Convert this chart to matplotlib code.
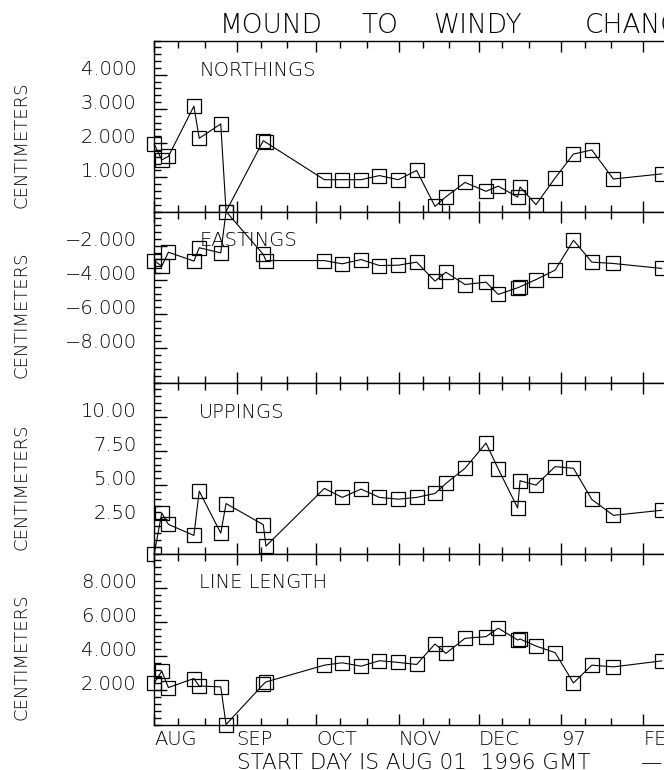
import numpy as np
import matplotlib.pyplot as plt
from matplotlib.ticker import FixedLocator, MultipleLocator
import matplotlib.transforms as mtransforms

# days since AUG 01 1996
day = [0, 2.8, 5.3, 14.9, 16.9, 25.0, 27.0, 41.0, 42.0, 64.0, 70.7, 77.8, 84.7, 91.8,
       98.7, 105.6, 109.7, 116.9, 124.8, 129.4, 136.7, 137.6, 143.6, 150.8, 157.7,
       164.6, 172.7, 190.9]

northings = [1.97, 1.51, 1.61, 3.08, 2.14, 2.56, 0.0, 2.07, 2.02, 0.93, 0.93, 0.93, 1.05,
             0.93, 1.20, 0.15, 0.43, 0.85, 0.59, 0.74, 0.42, 0.72, 0.20, 0.98, 1.68, 1.80,
             0.95, 1.10]
eastings = [-2.87, -3.20, -2.38, -2.90, -2.12, -2.42, 0.0, -2.51, -2.87, -2.87, -3.06, -2.81,
            -3.16, -3.14, -2.96, -4.07, -3.55, -4.27, -4.13, -4.85, -4.46, -4.40, -3.98,
            -3.43, -1.68, -2.96, -3.04, -3.33]
uppings = [0.0, 2.96, 2.13, 1.32, 4.56, 1.49, 3.65, 2.11, 0.54, 4.76, 4.10, 4.71, 4.10, 3.97,
           4.10, 4.39, 5.12, 6.23, 8.07, 6.18, 3.33, 5.32, 5.00, 6.35, 6.23, 3.95, 2.79, 3.16]
line_length = [2.43, 3.12, 2.16, 2.69, 2.25, 2.20, 0.0, 2.35, 2.49, 3.47, 3.61, 3.41, 3.73,
               3.63, 3.51, 4.71, 4.16, 5.04, 5.14, 5.63, 4.94, 5.00, 4.59, 4.20, 2.43, 3.47,
               3.37, 3.72]

month_days = [0, 31, 61, 92, 122, 153, 184, 215]
month_labels = ['AUG', 'SEP', 'OCT', 'NOV', 'DEC', '97', 'FEB', 'MAR']
minor_days = [9, 19, 40, 50, 70, 80, 101, 111, 131, 141, 162, 172, 193, 203, 224, 234]

panel_names = ['NORTHINGS', 'EASTINGS', 'UPPINGS', 'LINE LENGTH']
panel_data = [northings, eastings, uppings, line_length]
panel_ylims = [(0, 5), (-10, 0), (0, 12.5), (0, 10)]
panel_ticks = [[1, 2, 3, 4], [-8, -6, -4, -2], [2.5, 5, 7.5, 10], [2, 4, 6, 8]]
panel_ticklabels = [['1.000', '2.000', '3.000', '4.000'],
                    ['\u22128.000', '\u22126.000', '\u22124.000', '\u22122.000'],
                    ['2.50', '5.00', '7.50', '10.00'],
                    ['2.000', '4.000', '6.000', '8.000']]
panel_minor = [0.2, 0.4, 0.5, 0.4]

W, H = 664, 770
plt.rcParams['font.family'] = 'DejaVu Sans'
plt.rcParams['font.weight'] = 200
fig = plt.figure(figsize=(W / 100, H / 100), dpi=100)

x0 = 154.3
px_per_day = 2.658
xmax = 240
ax_w = xmax * px_per_day
panel_h = 171
top0 = 40.5
fs = 14

for i in range(4):
    top = top0 + i * panel_h
    ax = fig.add_axes([x0 / W, (H - top - panel_h) / H, ax_w / W, panel_h / H])
    ax.plot(day, panel_data[i], color='black', lw=0.8, marker='s', markersize=9.4,
            markerfacecolor='none', markeredgecolor='black', markeredgewidth=0.9,
            clip_on=False, zorder=3)
    ax.set_xlim(0, xmax)
    ax.set_ylim(*panel_ylims[i])
    for s in ax.spines.values():
        s.set_linewidth(1.0)

    ax.xaxis.set_major_locator(FixedLocator(month_days))
    ax.xaxis.set_minor_locator(FixedLocator(minor_days))
    ax.yaxis.set_major_locator(FixedLocator(panel_ticks[i]))
    ax.yaxis.set_minor_locator(MultipleLocator(panel_minor[i]))
    ax.set_yticklabels(panel_ticklabels[i])

    ax.tick_params(axis='both', which='both', direction='in', top=True, bottom=True,
                   left=True, right=True, width=1.0, color='black')
    ax.tick_params(axis='x', which='major', length=8)
    ax.tick_params(axis='x', which='minor', length=4.7)
    ax.tick_params(axis='y', which='major', length=9.4, pad=12.7, labelsize=fs)
    ax.tick_params(axis='y', which='minor', length=4.7)
    for lab in ax.get_yticklabels():
        lab.set_verticalalignment('baseline')

    if i == 3:
        ax.set_xticklabels(month_labels)
        ax.tick_params(axis='x', which='major', labelsize=fs, pad=4)
        for lab in ax.get_xticklabels():
            lab.set_horizontalalignment('left')
    else:
        ax.tick_params(axis='x', labelbottom=False)

    ax.text(45 / ax_w, 1 - 20 / panel_h, panel_names[i], transform=ax.transAxes,
            fontsize=fs, ha='left', va='top')

    trans = mtransforms.blended_transform_factory(fig.transFigure, ax.transAxes)
    ax.text(22 / W, 4 / panel_h, 'CENTIMETERS', transform=trans, rotation=90,
            fontsize=13, ha='center', va='bottom')

# title words, cut off by the right edge like the original
title_words = ['MOUND', 'TO', 'WINDY', 'CHANGES']
title_x = [220, 361.7, 433, 585]
for wd, xp in zip(title_words, title_x):
    fig.text(xp / W, 1 - 33.3 / H, wd, fontsize=19, ha='left', va='baseline')

fig.text(237 / W, 1 - 753 / H, 'START DAY IS AUG 01  1996 GMT', fontsize=15.5,
         ha='left', va='top')
fig.text(641 / W, 1 - 753 / H, '\u2014  JULIAN', fontsize=15.5, ha='left', va='top')

fig.savefig('out.png', dpi=100)
